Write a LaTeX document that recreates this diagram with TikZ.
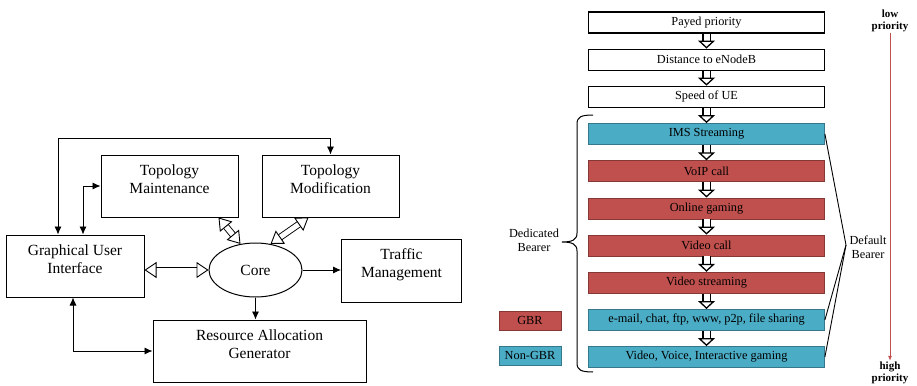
\documentclass[tikz,border=0pt]{standalone}
\usepackage{fontspec}
\setmainfont{Liberation Serif}
\usetikzlibrary{arrows.meta,shapes.geometric}

\definecolor{gbrred}{RGB}{192,80,77}
\definecolor{nongbrblue}{RGB}{75,172,198}

\tikzset{
  block/.style={draw,line width=1pt,inner sep=0pt,align=center,text depth=14pt,font=\fontsize{15.5}{18}\selectfont},
  rank/.style={draw,line width=1.3pt,minimum width=236,minimum height=21,inner sep=0pt,font=\fontsize{12.3}{14}\selectfont},
  gbr/.style={rank,fill=gbrred,draw=gbrred!70!black,line width=0.8pt},
  nongbr/.style={rank,fill=nongbrblue,draw=nongbrblue!70!black,line width=0.8pt},
  hollow/.style={double,double distance=5pt,line width=0.9pt,{Triangle[open,length=12pt,width=16pt]}-{Triangle[open,length=12pt,width=16pt]}},
  hollowdown/.style={double,double distance=6pt,line width=1.3pt,-{Triangle[open,length=8pt,width=17pt]}},
  remark/.style={align=center,font=\fontsize{12.3}{14}\selectfont},
}

\begin{document}
\begin{tikzpicture}[x=1pt,y=-1pt,>={Latex[length=8pt,width=7pt]}]
\useasboundingbox (0,0) rectangle (917,385);
% simulator blocks
\node[block,minimum width=138,minimum height=62] (gui)     at (75,266)     {Graphical User\\Interface};
\node[block,minimum width=137,minimum height=62] (tmaint)  at (169.5,186)  {Topology\\Maintenance};
\node[block,minimum width=137,minimum height=62] (tmod)    at (330.5,186)  {Topology\\Modification};
\node[block,minimum width=120,minimum height=63] (traffic) at (401.5,270.5) {Traffic\\Management};
\node[block,ellipse,text depth=,minimum width=93,minimum height=54] (core) at (255.5,270) {Core};
\node[block,minimum width=213,minimum height=62] (rag)     at (259.5,351)  {Resource Allocation\\Generator};
\coordinate (loop) at (58,138);
\draw[thick,<->] (gui.north -| loop) -- (loop) -| (tmod.north);
\draw[thick,<->] ([xshift=8]gui.north) |- (tmaint.west);
\draw[thick,<->] ([xshift=-2]gui.south) |- (rag.west);
\draw[hollow] (core.west -| gui.east) -- (core.west);
\draw[hollow] ([xshift=-20]tmaint.south east) -- (core.120);
\draw[hollow] ([xshift=-22]tmod.south) -- (core.60);
\draw[thick,->] (core.east) -- (core.east -| traffic.west);
\draw[thick,->] (core.south) -- (core.south |- rag.north);
% priority ladder
\node[rank]   (payed)    at (706.5,22.5)  {Payed priority};
\node[rank]   (distance) at (706.5,59.7)  {Distance to eNodeB};
\node[rank]   (speed)    at (706.5,96.8)  {Speed of UE};
\node[nongbr] (ims)      at (706.5,134)   {IMS Streaming};
\node[gbr]    (voip)     at (706.5,171.2) {VoIP call};
\node[gbr]    (gaming)   at (706.5,208.4) {Online gaming};
\node[gbr]    (vcall)    at (706.5,245.5) {Video call};
\node[gbr]    (vstream)  at (706.5,282.7) {Video streaming};
\node[nongbr] (email)    at (706.5,319.9) {e-mail, chat, ftp, www, p2p, file sharing};
\node[nongbr] (vvoice)   at (706.5,357)   {Video, Voice, Interactive gaming};
\draw[hollowdown] (payed) -- (distance);
\draw[hollowdown] (distance) -- (speed);
\draw[hollowdown] (speed) -- (ims);
\draw[hollowdown] (ims) -- (voip);
\draw[hollowdown] (voip) -- (gaming);
\draw[hollowdown] (gaming) -- (vcall);
\draw[hollowdown] (vcall) -- (vstream);
\draw[hollowdown] (vstream) -- (email);
\draw[hollowdown] (email) -- (vvoice);
% legend
\node[gbr,minimum width=62,minimum height=19]    (gbrkey)    at (530,320.5) {GBR};
\node[nongbr,minimum width=62,minimum height=19] (nongbrkey) at (530,355.5) {Non-GBR};
% bearers
\draw[line width=1pt] (593,115) .. controls (581,115) and (577,117) .. (577,124) -- (577,233)
  .. controls (577,240) and (572,242) .. (562,242) .. controls (572,242) and (577,244) .. (577,251)
  -- (577,363) .. controls (577,370) and (581,372) .. (593,372);
\node[remark] (dedicated) at (534,240) {Dedicated\\Bearer};
\coordinate (dtip) at (846,245);
\draw[line width=0.9pt] (ims.east) -- (dtip) -- (email.east);
\draw[line width=0.9pt] (dtip) -- (vvoice.east);
\node[remark] (default) at (868,247) {Default\\Bearer};
% priority axis
\node[align=center,inner sep=1pt,font=\bfseries\fontsize{11}{12}\selectfont] (low)  at (890,21)  {low\\priority};
\node[align=center,inner sep=1pt,font=\bfseries\fontsize{11}{12}\selectfont] (high) at (890,373) {high\\priority};
\draw[gbrred,line width=0.8pt,-{Latex[length=5pt,width=4pt]}] (low) -- (high);
\end{tikzpicture}
\end{document}
